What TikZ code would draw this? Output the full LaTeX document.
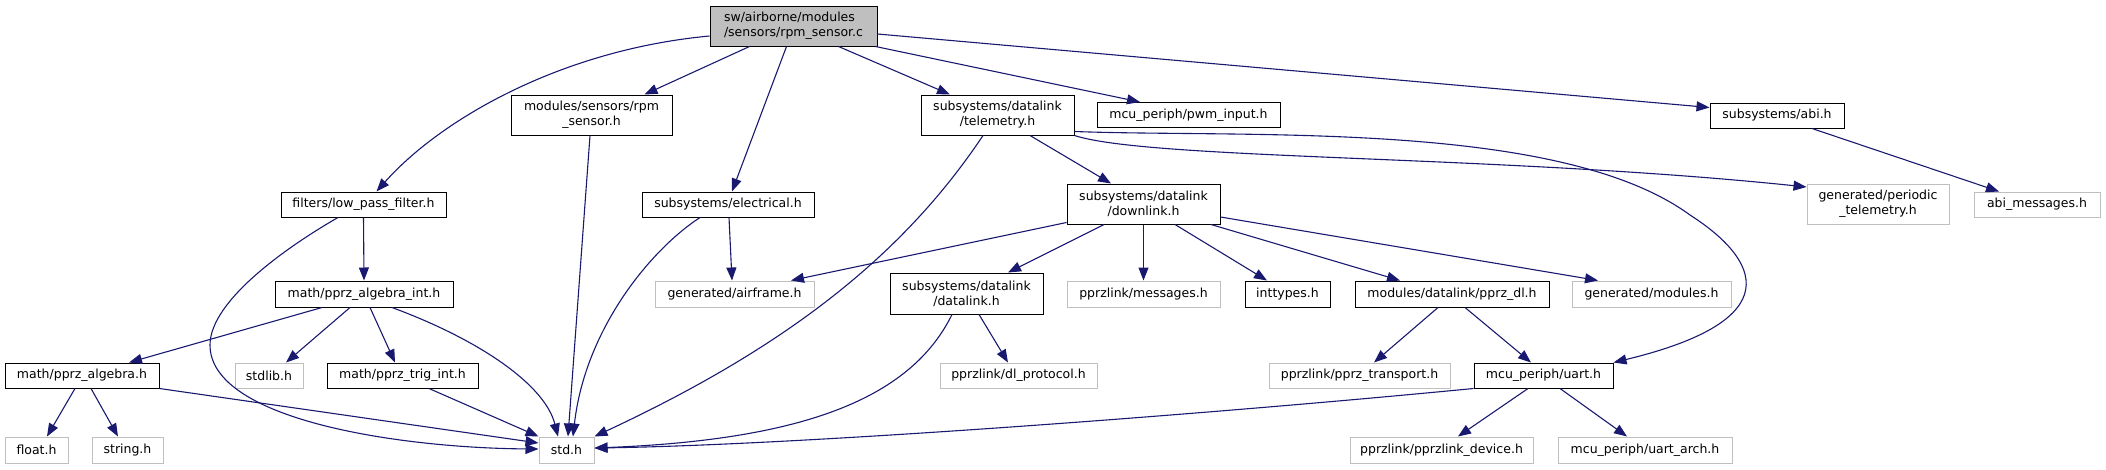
\documentclass[tikz,border=0pt]{standalone}
\usepackage{fontspec}
\setmainfont{DejaVu Sans}
\usetikzlibrary{arrows.meta}
\definecolor{edgec}{HTML}{191970}
\definecolor{grayb}{HTML}{BFBFBF}
\tikzset{
  nodebase/.style={draw, inner sep=0pt, line width=1pt, font=\fontsize{12.5}{15}\selectfont, align=center},
  docnode/.style={nodebase, draw=black},
  undocnode/.style={nodebase, draw=grayb},
  mainnode/.style={nodebase, draw=black, fill=grayb, align=left},
  edge/.style={draw=edgec, line width=1.1pt, -{Triangle[length=13pt,width=10pt]}},
}
\begin{document}
\begin{tikzpicture}[x=1pt,y=-1pt]
\useasboundingbox (0,0) rectangle (2106,469);
% rank 0
\node[mainnode, minimum width=167pt, minimum height=40pt] (main) at (793.5,26) {sw/airborne/modules\\/sensors/rpm\_sensor.c};
% rank 1
\node[docnode, minimum width=161pt, minimum height=40pt] (rpm) at (591.5,115) {modules/sensors/rpm\\\_sensor.h};
\node[docnode, minimum width=153pt, minimum height=40pt] (telem) at (997.5,115) {subsystems/datalink\\/telemetry.h};
\node[docnode, minimum width=183pt, minimum height=25pt] (pwm) at (1188.5,115) {mcu\_periph/pwm\_input.h};
\node[docnode, minimum width=134pt, minimum height=25pt] (abi) at (1777,115.5) {subsystems/abi.h};
% rank 2
\node[docnode, minimum width=165pt, minimum height=25pt] (filters) at (363.5,204.5) {filters/low\_pass\_filter.h};
\node[docnode, minimum width=172pt, minimum height=25pt] (elec) at (728,204.5) {subsystems/electrical.h};
\node[docnode, minimum width=153pt, minimum height=40pt] (downlink) at (1143.5,204) {subsystems/datalink\\/downlink.h};
\node[undocnode, minimum width=142pt, minimum height=40pt] (periodic) at (1878,204) {generated/periodic\\\_telemetry.h};
\node[undocnode, minimum width=126pt, minimum height=25pt] (abimsg) at (2037,204.5) {abi\_messages.h};
% rank 3
\node[docnode, minimum width=178pt, minimum height=26pt] (algint) at (364,294) {math/pprz\_algebra\_int.h};
\node[undocnode, minimum width=159pt, minimum height=26pt] (airframe) at (734.5,294) {generated/airframe.h};
\node[docnode, minimum width=153pt, minimum height=41pt] (datalink) at (966.5,293.5) {subsystems/datalink\\/datalink.h};
\node[undocnode, minimum width=153pt, minimum height=26pt] (messages) at (1143.5,294) {pprzlink/messages.h};
\node[docnode, minimum width=85pt, minimum height=26pt] (inttypes) at (1287.5,294) {inttypes.h};
\node[docnode, minimum width=194pt, minimum height=26pt] (pprzdl) at (1452,294) {modules/datalink/pprz\_dl.h};
\node[undocnode, minimum width=159pt, minimum height=26pt] (modules) at (1651.5,294) {generated/modules.h};
% rank 4
\node[docnode, minimum width=154pt, minimum height=25pt] (alg) at (82,375.5) {math/pprz\_algebra.h};
\node[undocnode, minimum width=68pt, minimum height=25pt] (stdlib) at (269,375.5) {stdlib.h};
\node[docnode, minimum width=151pt, minimum height=25pt] (trig) at (402.5,375.5) {math/pprz\_trig\_int.h};
\node[undocnode, minimum width=157pt, minimum height=25pt] (dlproto) at (1018.5,375.5) {pprzlink/dl\_protocol.h};
\node[undocnode, minimum width=181pt, minimum height=25pt] (transport) at (1359.5,375.5) {pprzlink/pprz\_transport.h};
\node[docnode, minimum width=139pt, minimum height=25pt] (uart) at (1543.5,375.5) {mcu\_periph/uart.h};
% rank 5
\node[undocnode, minimum width=63pt, minimum height=26pt] (float) at (36.5,450) {float.h};
\node[undocnode, minimum width=71pt, minimum height=26pt] (string) at (127.5,450) {string.h};
\node[undocnode, minimum width=55pt, minimum height=26pt] (std) at (566.5,450) {std.h};
\node[undocnode, minimum width=183pt, minimum height=26pt] (device) at (1441.5,450) {pprzlink/pprzlink\_device.h};
\node[undocnode, minimum width=174pt, minimum height=26pt] (uartarch) at (1645,450) {mcu\_periph/uart\_arch.h};
% edges from main
\draw[edge] ([yshift=-10pt]main.west) .. controls (560,50) and (440,120) .. ([xshift=13pt]filters.north);
\draw[edge] ([xshift=-44pt]main.south) -- ([xshift=53pt]rpm.north);
\draw[edge] ([xshift=-7pt]main.south) -- ([xshift=4pt]elec.north);
\draw[edge] ([xshift=45pt]main.south) -- ([xshift=-47.5pt]telem.north);
\draw[edge] ([xshift=-2pt]main.south east) -- ([xshift=-48.5pt]pwm.north);
\draw[edge] ([yshift=-8pt]main.east) -- ([yshift=8pt]abi.west);
% rank 1 edges
\draw[edge] ([xshift=-1.5pt]rpm.south) -- ([xshift=1.5pt]std.north);
\draw[edge] ([xshift=-14.5pt]telem.south) .. controls (900,260) and (780,350) .. (std.north east);
\draw[edge] ([xshift=32.5pt]telem.south) -- ([xshift=-32.5pt]downlink.north);
\draw[edge] (telem.south east) .. controls (1150,160) and (1500,155) .. ([yshift=17pt]periodic.west);
\draw[edge] ([yshift=4pt]telem.south east) .. controls (1250,138) and (1560,120) .. (1690,215) .. controls (1760,260) and (1790,320) .. (uart.north east);
\draw[edge] ([xshift=35pt]abi.south) -- ([xshift=-38pt]abimsg.north);
% rank 2 edges
\draw[edge] ([xshift=-25.5pt]filters.south) .. controls (290,245) and (210,300) .. (210,345) .. controls (210,420) and (400,448) .. ([yshift=1pt]std.west);
\draw[edge] (filters.south) -- (algint.north);
\draw[edge] ([xshift=1pt]elec.south) -- ([xshift=-2.5pt]airframe.north);
\draw[edge] ([xshift=-28pt]elec.south) .. controls (650,250) and (585,330) .. ([xshift=6.5pt]std.north);
\draw[edge] ([yshift=2pt]downlink.south west) -- ([xshift=56.5pt]airframe.north);
\draw[edge] ([xshift=-39.5pt]downlink.south) -- ([xshift=41.5pt]datalink.north);
\draw[edge] (downlink.south) -- (messages.north);
\draw[edge] ([xshift=31.5pt]downlink.south) -- ([xshift=-20.5pt]inttypes.north);
\draw[edge] ([xshift=67.5pt]downlink.south) -- ([xshift=-52pt]pprzdl.north);
\draw[edge] ([yshift=-13pt]downlink.east) -- ([xshift=-53.5pt]modules.north);
% rank 3 edges
\draw[edge] ([xshift=-42pt]algint.south) -- ([xshift=47pt]alg.north);
\draw[edge] ([xshift=-14pt]algint.south) -- ([xshift=17pt]stdlib.north);
\draw[edge] ([xshift=6pt]algint.south) -- ([xshift=-7.5pt]trig.north);
\draw[edge] ([xshift=28pt]algint.south) .. controls (480,340) and (545,385) .. ([xshift=-8.5pt]std.north);
\draw[edge] ([xshift=12.5pt]datalink.south) -- ([xshift=-10.5pt]dlproto.north);
\draw[edge] ([xshift=-14.5pt]datalink.south) .. controls (910,400) and (800,440) .. ([yshift=2pt]std.east);
\draw[edge] ([xshift=-14pt]pprzdl.south) -- ([xshift=14.5pt]transport.north);
\draw[edge] ([xshift=13pt]pprzdl.south) -- ([xshift=-12.5pt]uart.north);
% rank 4 edges
\draw[edge] ([xshift=-7pt]alg.south) -- ([xshift=10.5pt]float.north);
\draw[edge] ([xshift=9pt]alg.south) -- ([xshift=-9.5pt]string.north);
\draw[edge] (alg.south east) -- ([yshift=7pt]std.west);
\draw[edge] ([xshift=26.5pt]trig.south) -- (std.north west);
\draw[edge] (uart.south west) .. controls (1200,415) and (800,445) .. ([yshift=2pt]std.east);
\draw[edge] ([xshift=-15.5pt]uart.south) -- ([xshift=16.5pt]device.north);
\draw[edge] ([xshift=16.5pt]uart.south) -- ([xshift=-18pt]uartarch.north);
\end{tikzpicture}
\end{document}
